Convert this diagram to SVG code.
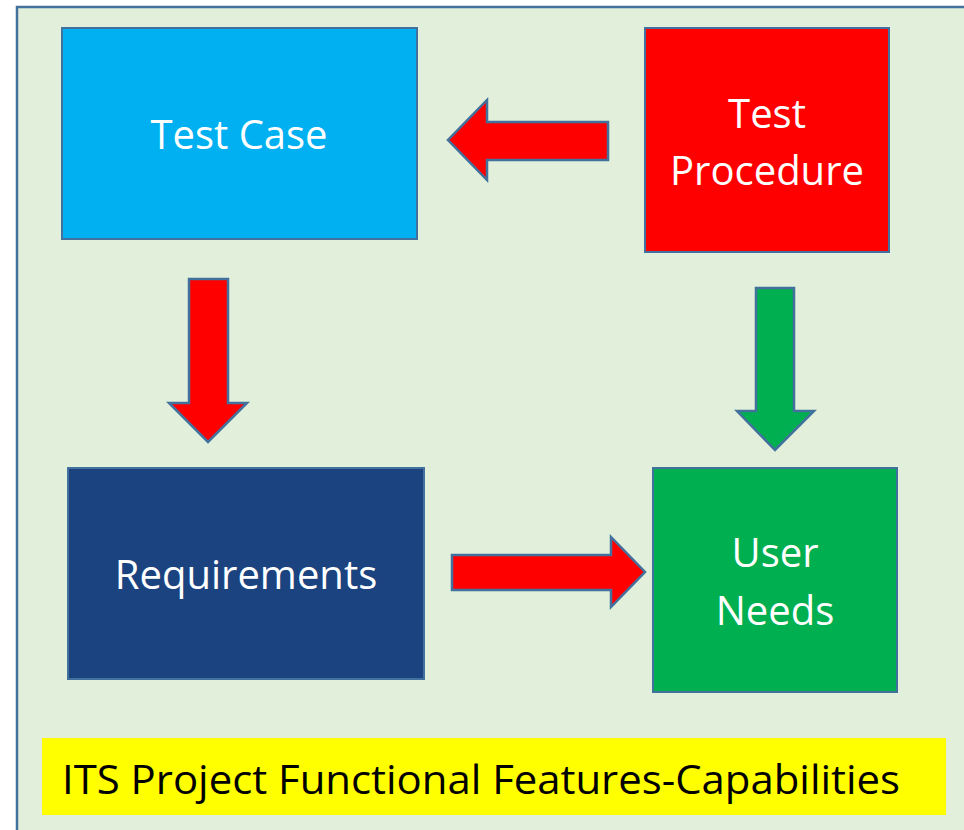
<svg xmlns="http://www.w3.org/2000/svg" width="964" height="830" viewBox="0 0 964 830">
<style>
.box{stroke:#41719C;stroke-width:2}
.arr{stroke:#41719C;stroke-width:2.5;stroke-linejoin:miter}
.lbl{font-family:"Open Sans","Liberation Sans",sans-serif;font-size:40px;fill:#ffffff;text-anchor:middle}
.cap{font-family:"Open Sans","Liberation Sans",sans-serif;font-size:41px;fill:#000000}
</style>
<rect x="0" y="0" width="964" height="830" fill="#ffffff"/>
<rect x="17" y="7" width="960" height="840" fill="#E2EFDA" stroke="#41719C" stroke-width="2.5"/>
<g id="connectors">
<polygon class="arr" fill="#FF0000" points="608,122 487,122 487,100 448,140 487,180 487,160 608,160"/>
<polygon class="arr" fill="#FF0000" points="189,279 228,279 228,403 247,403 208,442 169,403 189,403"/>
<polygon class="arr" fill="#00B050" points="756,288 794,288 794,411 814,411 775,450 737,411 756,411"/>
<polygon class="arr" fill="#FF0000" points="452,555 611,555 611,537 645,572 611,607 611,590 452,590"/>
</g>
<g id="test-case">
<rect class="box" x="62" y="28" width="355" height="211" fill="#00B0F0"/>
<text class="lbl" x="239" y="149">Test Case</text>
</g>
<g id="test-procedure">
<rect class="box" x="645" y="28" width="244" height="224" fill="#FF0000"/>
<text class="lbl" x="767" y="128">Test</text>
<text class="lbl" x="767" y="185">Procedure</text>
</g>
<g id="requirements">
<rect class="box" x="68" y="468" width="356" height="211" fill="#1B4380"/>
<text class="lbl" x="246" y="589">Requirements</text>
</g>
<g id="user-needs">
<rect class="box" x="653" y="468" width="244" height="224" fill="#00B050"/>
<text class="lbl" x="775" y="567">User</text>
<text class="lbl" x="775" y="625">Needs</text>
</g>
<g id="caption">
<rect x="42" y="738" width="904" height="77" fill="#FFFF00"/>
<text class="cap" x="62" y="794" textLength="838" lengthAdjust="spacingAndGlyphs">ITS Project Functional Features-Capabilities</text>
</g>
</svg>
